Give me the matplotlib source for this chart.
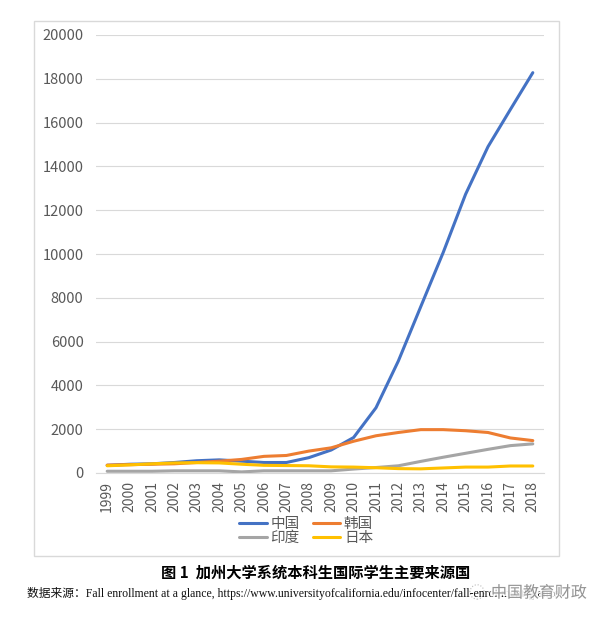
import matplotlib
matplotlib.use('Agg')
import matplotlib.pyplot as plt
import matplotlib.patheffects as pe
from matplotlib.patches import Rectangle, Circle

plt.rcParams['font.family'] = ['Noto Sans CJK SC', 'DejaVu Sans']

# enrollment by country of origin
years = [str(y) for y in range(1999, 2019)]
china = [350, 400, 420, 480, 560, 600, 540, 480, 480, 700,
         1050, 1620, 2980, 5120, 7600, 10070, 12730, 14900, 16600, 18280]
korea = [360, 380, 400, 420, 480, 540, 620, 760, 800, 1000,
         1150, 1450, 1700, 1850, 1980, 1980, 1930, 1850, 1600, 1480]
india = [80, 80, 80, 100, 100, 100, 50, 100, 100, 100,
         100, 180, 250, 330, 530, 720, 900, 1080, 1250, 1330]
japan = [330, 370, 420, 460, 470, 460, 400, 350, 340, 330,
         280, 270, 240, 200, 190, 230, 270, 270, 320, 320]
names = ['中国', '韩国', '印度', '日本']
colors = ['#4472C4', '#ED7D31', '#A5A5A5', '#FFC000']
yticks = list(range(0, 20001, 2000))

fig = plt.figure(figsize=(6.03, 6.19), dpi=100)
ax = fig.add_axes([96/603, 1 - 473/619, (544 - 96)/603, (473 - 35)/619])

# chart border like excel
fig.patches.append(Rectangle((34/603, 1 - 556/619), (559 - 34)/603, (556 - 21)/619,
                             transform=fig.transFigure, fill=False,
                             edgecolor='#d9d9d9', linewidth=1))

x = range(len(years))
lines = []
for vals, c, n in zip([china, korea, india, japan], colors, names):
    ln, = ax.plot(x, vals, color=c, linewidth=2.2, label=n, solid_capstyle='round')
    lines.append(ln)

ax.set_xlim(-0.5, len(years) - 0.5)
ax.set_ylim(0, 20000)
ax.set_yticks(yticks)
ax.set_yticklabels([str(v) for v in yticks])
ax.set_xticks(list(x))
ax.set_xticklabels(years, rotation=90)
ax.grid(axis='y', color='#d9d9d9', linewidth=0.8)
ax.set_axisbelow(True)
for s in ['top', 'right', 'left']:
    ax.spines[s].set_visible(False)
ax.spines['bottom'].set_color('#d9d9d9')
ax.tick_params(length=0, colors='#595959')
ax.tick_params(axis='y', pad=9, labelsize=10.5)
ax.tick_params(axis='x', pad=6, labelsize=10)
for t in ax.get_xticklabels() + ax.get_yticklabels():
    t.set_fontweight('light')

# legend order: 中国 韩国 / 印度 日本
leg = fig.legend([lines[0], lines[2], lines[1], lines[3]],
                 [names[0], names[2], names[1], names[3]],
                 ncol=2, loc='center', bbox_to_anchor=(306/603, 1 - 531/619),
                 frameon=False, fontsize=10.5, handlelength=1.9,
                 handletextpad=0.25, columnspacing=0.9, labelspacing=0.0,
                 borderpad=0)
for t in leg.get_texts():
    t.set_color('#595959')
    t.set_fontweight('light')

fig.text(316/603, 1 - 573/619, '图 1  加州大学系统本科生国际学生主要来源国',
         ha='center', va='center', fontsize=11, fontweight='bold', color='black')
fig.text(27/603, 1 - 594/619,
         '数据来源：Fall enrollment at a glance, https://www.universityofcalifornia.edu/infocenter/fall-enrollment-glance',
         ha='left', va='center', fontsize=8.5, color='#111111',
         family=['Liberation Serif', 'Noto Sans CJK SC'])

# watermark
fig.text(539/603, 1 - 593/619, '中国教育财政', ha='center', va='center',
         fontsize=11.5, color='#8a8a8a', alpha=0.9,
         path_effects=[pe.withStroke(linewidth=2.5, foreground='white')])
fig.patches.append(Circle((477/603, 1 - 592/619), 7/603, transform=fig.transFigure,
                          fill=True, facecolor='white', edgecolor='#bbbbbb',
                          linewidth=0.8, linestyle=':'))

fig.savefig('out.png', dpi=100)
